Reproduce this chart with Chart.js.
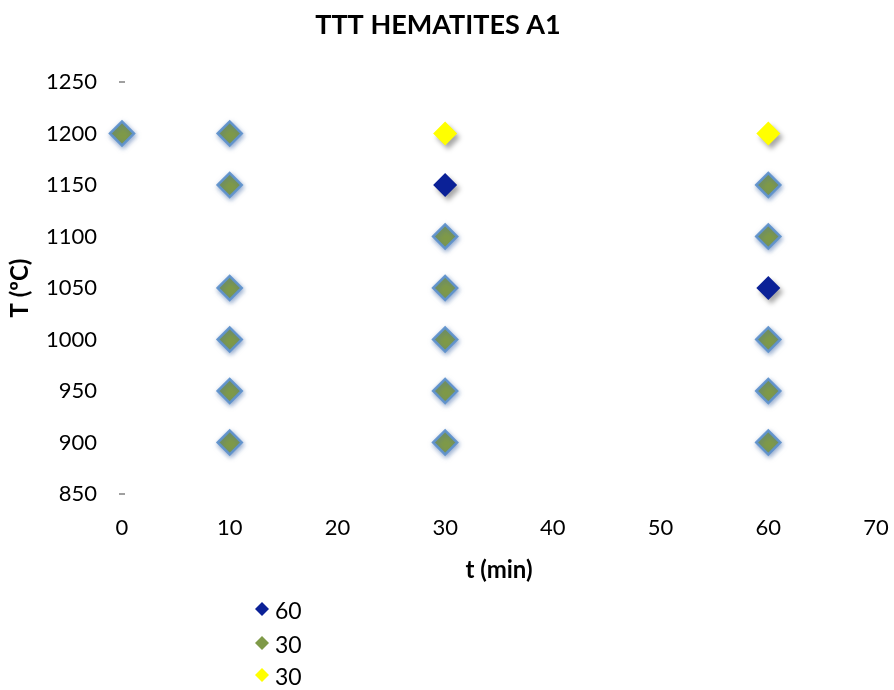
<!DOCTYPE html>
<html>
<head>
<meta charset="utf-8">
<title>TTT HEMATITES A1</title>
<script src="https://cdn.jsdelivr.net/npm/chart.js@4/dist/chart.umd.min.js"></script>
<style>
  html, body { margin: 0; padding: 0; background: #ffffff; }
  #wrap { width: 894px; height: 690px; position: relative; }
</style>
</head>
<body>
<div id="wrap"><canvas id="ttt"></canvas></div>
<script>
// Treatment grid: time (min) vs temperature (ºC), grouped by result
const seriesNames = ['60', '30', '30'];

const blueT = [30, 60];
const blueTemp = [1150, 1050];

const greenT = [0, 10, 10, 10, 10, 10, 10, 30, 30, 30, 30, 30, 60, 60, 60, 60, 60];
const greenTemp = [1200, 1200, 1150, 1050, 1000, 950, 900, 1100, 1050, 1000, 950, 900, 1150, 1100, 1000, 950, 900];

const yellowT = [30, 60];
const yellowTemp = [1200, 1200];

// range markers pinning the temperature axis
const rangeT = [0, 0];
const rangeTemp = [850, 1250];

const xTicks = [0, 10, 20, 30, 40, 50, 60, 70];
const yTicks = [850, 900, 950, 1000, 1050, 1100, 1150, 1200, 1250];

const FONT = "Lato, 'Open Sans', sans-serif";

function pts(xs, ys) { return xs.map((x, i) => ({ x: x, y: ys[i] })); }

const colors = {
  blue: '#0B2197',
  green: '#7F9A48',
  greenEdge: 'rgba(96,146,205,0.95)',
  yellow: '#FFFF00'
};

// per-dataset canvas shadow
const shadowPlugin = {
  id: 'markerShadow',
  beforeDatasetDraw(chart, args) {
    const sh = chart.data.datasets[args.index].shadow;
    if (!sh) return;
    const ctx = chart.ctx;
    ctx.save();
    ctx.shadowColor = sh.color;
    ctx.shadowBlur = sh.blur;
    ctx.shadowOffsetX = sh.dx;
    ctx.shadowOffsetY = sh.dy;
  },
  afterDatasetDraw(chart, args) {
    const sh = chart.data.datasets[args.index].shadow;
    if (!sh) return;
    chart.ctx.restore();
  }
};

// vertical legend under the plot
const stackedLegend = {
  id: 'stackedLegend',
  afterDraw(chart) {
    const ctx = chart.ctx;
    const x0 = 262, rowY = [609, 643, 675];
    ctx.save();
    for (let i = 0; i < 3; i++) {
      const ds = chart.data.datasets[i];
      const r = 7;
      ctx.fillStyle = ds.backgroundColor;
      ctx.beginPath();
      ctx.moveTo(x0, rowY[i] - r);
      ctx.lineTo(x0 + r, rowY[i]);
      ctx.lineTo(x0, rowY[i] + r);
      ctx.lineTo(x0 - r, rowY[i]);
      ctx.closePath();
      ctx.fill();
      ctx.fillStyle = '#000000';
      ctx.font = '23px ' + FONT;
      ctx.textBaseline = 'middle';
      ctx.textAlign = 'left';
      ctx.fillText(ds.label, 275, rowY[i] + 3);
    }
    ctx.restore();
  }
};

new Chart(document.getElementById('ttt'), {
  type: 'scatter',
  data: {
    datasets: [
      {
        label: seriesNames[0],
        data: pts(blueT, blueTemp),
        clip: false,
        pointStyle: 'rectRot',
        pointRadius: 12,
        pointHoverRadius: 12,
        backgroundColor: colors.blue,
        borderColor: colors.blue,
        borderWidth: 0,
        shadow: { color: 'rgba(0,0,0,0.35)', blur: 5, dx: 3, dy: 4 }
      },
      {
        label: seriesNames[1],
        data: pts(greenT, greenTemp),
        clip: false,
        pointStyle: 'rectRot',
        pointRadius: 12,
        pointHoverRadius: 12,
        backgroundColor: colors.green,
        borderColor: colors.greenEdge,
        borderWidth: 2.5,
        shadow: { color: 'rgba(70,110,170,0.55)', blur: 5, dx: 1, dy: 2 }
      },
      {
        label: seriesNames[2],
        data: pts(yellowT, yellowTemp),
        clip: false,
        pointStyle: 'rectRot',
        pointRadius: 12,
        pointHoverRadius: 12,
        backgroundColor: colors.yellow,
        borderColor: colors.yellow,
        borderWidth: 0,
        shadow: { color: 'rgba(0,0,0,0.35)', blur: 5, dx: 3, dy: 4 }
      },
      {
        label: 'range',
        data: pts(rangeT, rangeTemp),
        clip: false,
        pointStyle: 'line',
        pointRadius: 3,
        borderColor: '#a0a0a0',
        borderWidth: 2,
        backgroundColor: '#a0a0a0'
      }
    ]
  },
  options: {
    responsive: true,
    maintainAspectRatio: false,
    animation: false,
    layout: { padding: { left: 0, right: 18, top: 0, bottom: 96 } },
    plugins: {
      legend: { display: false },
      tooltip: { enabled: false },
      title: {
        display: true,
        text: 'TTT HEMATITES A1',
        color: '#000000',
        font: { family: FONT, size: 27, weight: 'bold', lineHeight: 1.2 },
        padding: { top: 9, bottom: 40.6 }
      }
    },
    scales: {
      x: {
        type: 'linear',
        min: 0,
        max: 70,
        afterBuildTicks(scale) { scale.ticks = xTicks.map(v => ({ value: v })); },
        afterFit(scale) { scale.height = 100; },
        // invisible tick marks hold the labels away from the plot
        grid: { display: true, drawOnChartArea: false, drawTicks: true, tickLength: 21, color: 'rgba(0,0,0,0)' },
        border: { display: false },
        ticks: {
          color: '#000000',
          padding: 0,
          font: { family: FONT, size: 22 },
          callback: v => String(v)
        },
        title: {
          display: true,
          text: 't (min)',
          color: '#000000',
          font: { family: FONT, size: 24, weight: 'bold', lineHeight: 1.2 },
          padding: { top: 0, bottom: 9.6 }
        }
      },
      y: {
        type: 'linear',
        min: 850,
        max: 1250,
        afterBuildTicks(scale) { scale.ticks = yTicks.map(v => ({ value: v })); },
        afterFit(scale) { scale.width = 122; },
        grid: { display: false, drawTicks: false },
        border: { display: false },
        ticks: {
          color: '#000000',
          padding: 25,
          font: { family: FONT, size: 22 },
          callback: v => String(v)
        },
        title: {
          display: true,
          text: 'T (ºC)',
          color: '#000000',
          font: { family: FONT, size: 24, weight: 'bold', lineHeight: 1.2 },
          padding: { top: 5.6, bottom: 0 }
        }
      }
    }
  },
  plugins: [shadowPlugin, stackedLegend]
});
</script>
</body>
</html>
